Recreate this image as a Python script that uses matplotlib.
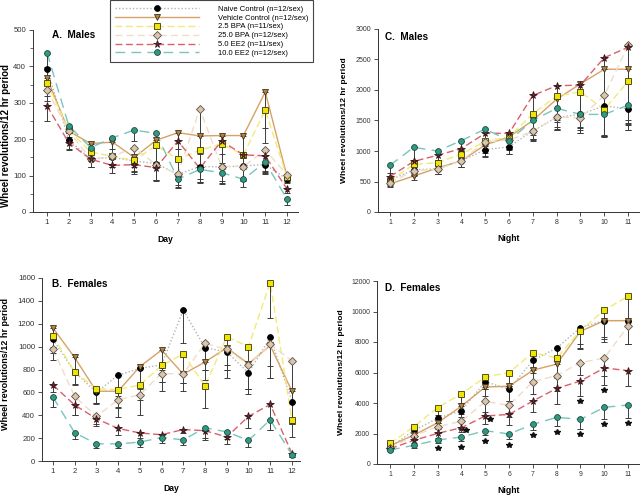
import numpy as np
import matplotlib
matplotlib.use("Agg")
import matplotlib.pyplot as plt
from matplotlib.lines import Line2D
from matplotlib.ticker import MultipleLocator

plt.rcParams['font.family'] = ['Liberation Sans', 'DejaVu Sans']

# ---------------- data ----------------
days = list(range(1, 13))
nights = list(range(1, 12))

series_names = ["Naive Control (n=12/sex)", "Vehicle Control (n=12/sex)",
                "2.5 BPA (n=11/sex)", "25.0 BPA (n=12/sex)",
                "5.0 EE2 (n=11/sex)", "10.0 EE2 (n=12/sex)"]

# A. Males, day
naive_A = [393, 198, 145, 150, 140, 133, 103, 125, 124, 127, 130, 90]
vehicle_A = [368, 222, 188, 192, 150, 197, 218, 209, 210, 210, 330, 97]
bpa25_A = [355, 225, 165, 153, 142, 183, 145, 170, 187, 157, 280, 95]
bpa250_A = [336, 222, 145, 153, 177, 130, 105, 283, 125, 125, 170, 102]
ee5_A = [292, 190, 145, 128, 130, 122, 195, 120, 195, 157, 154, 63]
ee10_A = [438, 237, 177, 204, 225, 216, 90, 117, 108, 90, 137, 35]
naive_A_err = [40, 25, 20, 20, 30, 45, 35, 45, 45, 40, 25, 10]
vehicle_A_err = [35, 30, 25, 40, 25, 60, 45, 50, 50, 50, 100, 15]
bpa25_A_err = [35, 25, 25, 30, 30, 50, 40, 40, 70, 40, 90, 10]
bpa250_A_err = [30, 25, 20, 30, 40, 45, 30, 200, 40, 40, 60, 15]
ee5_A_err = [42, 20, 20, 20, 25, 35, 50, 30, 60, 30, 40, 10]
ee10_A_err = [40, 30, 25, 30, 30, 40, 25, 35, 30, 20, 30, 15]

# B. Females, day
naive_B = [1063, 780, 600, 750, 810, 840, 1320, 990, 955, 770, 1080, 520]
vehicle_B = [1165, 905, 610, 610, 825, 970, 760, 865, 990, 850, 1010, 610]
bpa25_B = [1095, 778, 630, 625, 665, 835, 935, 655, 1085, 1000, 1560, 355]
bpa250_B = [980, 565, 390, 535, 580, 765, 760, 1030, 975, 840, 1020, 875]
ee5_B = [665, 490, 370, 285, 245, 230, 275, 265, 210, 390, 495, 65]
ee10_B = [560, 248, 150, 150, 165, 205, 185, 290, 255, 180, 360, 55]
naive_B_err = [120, 110, 100, 180, 180, 150, 290, 190, 160, 140, 250, 200]
vehicle_B_err = [100, 110, 100, 150, 150, 170, 80, 160, 190, 220, 280, 280]
bpa25_B_err = [100, 110, 120, 150, 130, 140, 250, 190, 250, 370, 310, 30]
bpa250_B_err = [100, 160, 80, 150, 180, 150, 150, 230, 250, 250, 290, 665]
ee5_B_err = [60, 90, 50, 60, 40, 30, 30, 80, 60, 100, 220, 30]
ee10_B_err = [90, 55, 40, 40, 45, 50, 45, 90, 60, 55, 90, 20]

# C. Males, night
naive_C = [525, 690, 710, 840, 1020, 1070, 1330, 1550, 1600, 1740, 1690]
vehicle_C = [460, 590, 720, 840, 1100, 1230, 1500, 1850, 2100, 2340, 2340]
bpa25_C = [510, 780, 810, 950, 1160, 1230, 1610, 1900, 1970, 1680, 2140]
bpa250_C = [480, 680, 700, 840, 1150, 1180, 1320, 1560, 1540, 1910, 2730]
ee5_C = [580, 830, 930, 1040, 1290, 1290, 1910, 2070, 2080, 2530, 2700]
ee10_C = [765, 1060, 1000, 1170, 1360, 1170, 1500, 1700, 1600, 1600, 1750]
naive_C_err = [60, 80, 80, 110, 110, 120, 150, 200, 300, 500, 350]
vehicle_C_err = [50, 60, 90, 100, 200, 280, 300, 350, 700, 1100, 1000]
bpa25_C_err = [60, 100, 100, 120, 150, 200, 350, 550, 600, 450, 680]
bpa250_C_err = [50, 80, 80, 110, 180, 150, 150, 200, 250, 650, 1300]
ee5_C_err = [70, 150, 120, 150, 200, 200, 600, 600, 500, 800, 1200]
ee10_C_err = [120, 200, 150, 150, 200, 150, 300, 300, 250, 350, 300]

# D. Females, night
naive_D = [1100, 2200, 3000, 3500, 5400, 4900, 6800, 7600, 8950, 9400, 9400]
vehicle_D = [1200, 1900, 2700, 3800, 5050, 5100, 6150, 6550, 8700, 9400, 9400]
bpa25_D = [1350, 2450, 3700, 4600, 5700, 6000, 7300, 6950, 8750, 10100, 11000]
bpa250_D = [1050, 1850, 2450, 2800, 4100, 3850, 5400, 5800, 6650, 6950, 9050]
ee5_D = [1000, 1550, 2010, 2380, 3150, 3250, 4130, 4960, 5440, 6300, 6120]
ee10_D = [920, 1225, 1575, 1770, 2185, 1970, 2600, 3060, 2930, 3715, 3870]
naive_D_err = [150, 300, 300, 400, 500, 800, 800, 800, 1100, 1100, 1500]
vehicle_D_err = [150, 300, 400, 500, 600, 1000, 700, 900, 1100, 1400, 1500]
bpa25_D_err = [200, 400, 500, 600, 800, 900, 1000, 1200, 1200, 1900, 3100]
bpa250_D_err = [150, 300, 400, 500, 700, 800, 800, 1000, 800, 1200, 1200]
ee5_D_err = [100, 200, 300, 300, 500, 700, 700, 1000, 1000, 1100, 1000]
ee10_D_err = [100, 150, 200, 250, 300, 300, 400, 600, 650, 750, 850]

# significance asterisks in D
sig_nights = [3, 4, 4, 5, 5, 6, 7, 8, 9, 9, 10, 10, 11]
sig_levels = [1030, 1140, 2230, 1500, 2930, 1250, 1900, 2120, 1940, 4130, 2600, 4850, 2670]
sig_shifted = [0, 0, 1, 0, 1, 0, 0, 0, 0, 0, 0, 0, 0]

# ---------------- styles ----------------
styles = [
    dict(lc="#b4b4b4", ls=(0, (1, 1.5)), m="o", mfc="#000000", mec="#000000", ms=4.2),
    dict(lc="#d6a266", ls="-", m="v", mfc="#a8864e", mec="#4a3018", ms=4.5),
    dict(lc="#f2ea78", ls=(0, (5, 2.5)), m="s", mfc="#f0e400", mec="#3a3a10", ms=4.0),
    dict(lc="#f0dcc8", ls=(0, (5, 3)), m="D", mfc="#d9c6ac", mec="#5a5048", ms=3.6),
    dict(lc="#d9606c", ls=(0, (5, 2.5)), m="*", mfc="#6e2a30", mec="#3a1418", ms=5.5),
    dict(lc="#78c6bc", ls=(0, (7, 4.5)), m="o", mfc="#2f9a80", mec="#1e4a40", ms=4.2),
]

panels = [
    dict(pos=[33/640, 1-212/495, 265/640, 182/495], x=days,
         data=[naive_A, vehicle_A, bpa25_A, bpa250_A, ee5_A, ee10_A],
         err=[naive_A_err, vehicle_A_err, bpa25_A_err, bpa250_A_err, ee5_A_err, ee10_A_err],
         ylim=(0, 500), ymaj=100, ymin=50, xlim=(0.36, 12.5), title="A.  Males",
         tx=0.07, ty=0.975, xlabel="Day", xlab_y=-0.128, ylab_xy=(-0.083, 0.42),
         tfs=5.6, lfs=7.0),
    dict(pos=[378/640, 1-212/495, 262/640, 183/495], x=nights,
         data=[naive_C, vehicle_C, bpa25_C, bpa250_C, ee5_C, ee10_C],
         err=[naive_C_err, vehicle_C_err, bpa25_C_err, bpa250_C_err, ee5_C_err, ee10_C_err],
         ylim=(0, 3000), ymaj=500, ymin=None, xlim=(0.5, 11.5), title="C.  Males",
         tx=0.027, ty=0.958, xlabel="Night", xlab_y=-0.118, ylab_xy=(-0.115, 0.5),
         tfs=5.0, lfs=6.1),
    dict(pos=[42/640, 1-461/495, 258/640, 183/495], x=days,
         data=[naive_B, vehicle_B, bpa25_B, bpa250_B, ee5_B, ee10_B],
         err=[naive_B_err, vehicle_B_err, bpa25_B_err, bpa250_B_err, ee5_B_err, ee10_B_err],
         ylim=(0, 1600), ymaj=200, ymin=None, xlim=(0.5, 12.37), title="B.  Females",
         tx=0.038, ty=0.966, xlabel="Day", xlab_y=-0.128, ylab_xy=(-0.124, 0.53),
         tfs=5.6, lfs=6.5),
    dict(pos=[377/640, 1-464/495, 263/640, 183/495], x=nights,
         data=[naive_D, vehicle_D, bpa25_D, bpa250_D, ee5_D, ee10_D],
         err=[naive_D_err, vehicle_D_err, bpa25_D_err, bpa250_D_err, ee5_D_err, ee10_D_err],
         ylim=(0, 12000), ymaj=2000, ymin=None, xlim=(0.45, 11.5), title="D.  Females",
         tx=0.03, ty=0.963, xlabel="Night", xlab_y=-0.118, ylab_xy=(-0.122, 0.5),
         tfs=4.9, lfs=6.1),
]

fig = plt.figure(figsize=(6.4, 4.95), dpi=100)

for p in panels:
    ax = fig.add_axes(p["pos"])
    x = np.array(p["x"])
    for s, y in zip(styles, p["data"]):
        ax.plot(x, y, color=s["lc"], linestyle=s["ls"], lw=1.0, zorder=2)
    for s, y, e in zip(styles, p["data"], p["err"]):
        ax.errorbar(x, y, yerr=[e, np.zeros(len(e))], fmt="none", ecolor="#3c3c3c",
                    elinewidth=0.7, capsize=2.0, capthick=0.7, zorder=2.5)
    for s, y in zip(styles, p["data"]):
        ax.plot(x, y, linestyle="none", marker=s["m"], mfc=s["mfc"], mec=s["mec"],
                ms=s["ms"], mew=0.6, zorder=3)
    ax.set_xlim(*p["xlim"])
    ax.set_ylim(*p["ylim"])
    ax.set_xticks(x)
    ax.yaxis.set_major_locator(MultipleLocator(p["ymaj"]))
    if p["ymin"]:
        ax.yaxis.set_minor_locator(MultipleLocator(p["ymin"]))
    for sp in ["top", "right"]:
        ax.spines[sp].set_visible(False)
    for sp in ["left", "bottom"]:
        ax.spines[sp].set_linewidth(0.7)
        ax.spines[sp].set_color("#333333")
    ax.tick_params(which="major", length=3, width=0.6, colors="#333333",
                   labelsize=p["tfs"], pad=2)
    ax.tick_params(which="minor", length=2, width=0.5, colors="#333333")
    ax.set_xlabel(p["xlabel"], fontsize=6.2, fontweight="bold")
    ax.xaxis.set_label_coords(0.5, p["xlab_y"])
    ax.set_ylabel("Wheel revolutions/12 hr period", fontsize=p["lfs"], fontweight="bold")
    ax.yaxis.set_label_coords(*p["ylab_xy"])
    ax.text(p["tx"], p["ty"], p["title"], transform=ax.transAxes, fontsize=7.2,
            fontweight="bold", ha="left", va="center")
    if p["title"].startswith("D"):
        sx = np.array(sig_nights) + 0.2 * np.array(sig_shifted)
        ax.plot(sx, sig_levels, linestyle="none", marker="*", color="#111111",
                ms=4.0, zorder=4)

handles = [Line2D([0], [0], color=s["lc"], linestyle=s["ls"], lw=1.0, marker=s["m"],
                  mfc=s["mfc"], mec=s["mec"], ms=s["ms"], mew=0.6) for s in styles]
leg = fig.legend(handles, series_names, loc="upper left", bbox_to_anchor=(110/640, 1.0),
                 bbox_transform=fig.transFigure, borderaxespad=0.0, fontsize=5.5,
                 handlelength=11.0, handletextpad=2.4, labelspacing=0.2,
                 borderpad=0.7, fancybox=False, framealpha=1.0, edgecolor="#444444",
                 numpoints=1)
leg.get_frame().set_linewidth(0.8)

fig.savefig("out.png", dpi=100)
